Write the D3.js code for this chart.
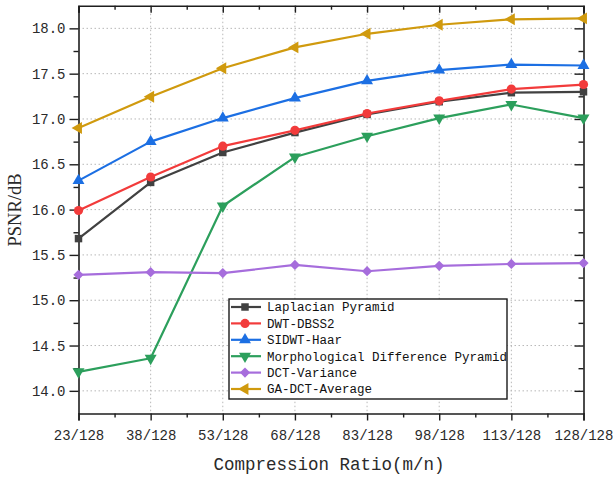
<!DOCTYPE html>
<html>
<head>
<meta charset="utf-8">
<script src="https://cdn.jsdelivr.net/npm/d3@7"></script>
<style>
html,body{margin:0;padding:0;background:#fff;}
svg{display:block;}
</style>
</head>
<body>
<svg id="chart" width="613" height="477"></svg>
<script>
// ---- data ----
const ratioNumerators = [23, 38, 53, 68, 83, 98, 113, 128];
const ratioLabels = ["23/128","38/128","53/128","68/128","83/128","98/128","113/128","128/128"];
const yTicks = [14.0, 14.5, 15.0, 15.5, 16.0, 16.5, 17.0, 17.5, 18.0];

const seriesNames = ["Laplacian Pyramid","DWT-DBSS2","SIDWT-Haar","Morphological Difference Pyramid","DCT-Variance","GA-DCT-Average"];
const laplacian = [15.68, 16.30, 16.63, 16.85, 17.05, 17.19, 17.29, 17.30];
const dwtDbss2  = [15.99, 16.36, 16.70, 16.875, 17.06, 17.20, 17.33, 17.38];
const sidwtHaar = [16.32, 16.75, 17.01, 17.23, 17.42, 17.54, 17.60, 17.59];
const morphDiff = [14.21, 14.36, 16.04, 16.58, 16.81, 17.01, 17.16, 17.01];
const dctVar    = [15.28, 15.31, 15.30, 15.39, 15.32, 15.38, 15.40, 15.41];
const gaDctAvg  = [16.90, 17.245, 17.56, 17.79, 17.94, 18.04, 18.10, 18.11];

const seriesValues = [laplacian, dwtDbss2, sidwtHaar, morphDiff, dctVar, gaDctAvg];
const seriesColors = ["#414141","#f23b3b","#1c6fe3","#2c9f5c","#a66ddc","#d09a0e"];
const seriesSymbols = [
  {type: d3.symbolSquare, size: 56, rot: 0},
  {type: d3.symbolCircle, size: 66, rot: 0},
  {type: d3.symbolTriangle, size: 62, rot: 0},
  {type: d3.symbolTriangle, size: 62, rot: 180},
  {type: d3.symbolSquare, size: 52, rot: 45},
  {type: d3.symbolTriangle, size: 62, rot: -90}
];

// ---- layout ----
const L = 78.5, R = 583.5, T = 5.7, B = 413.5;
const svg = d3.select("#chart");
const x = d3.scaleLinear().domain([23, 128]).range([L, R]);
const y = d3.scaleLinear().domain([13.75, 18.25]).range([B, T]);

const axisColor = "#1e1e1e";
const monoFont = "'Liberation Mono', 'DejaVu Sans Mono', monospace";

// grid
const grid = svg.append("g");
grid.selectAll("line.gy").data(yTicks).join("line")
  .attr("x1", L).attr("x2", R)
  .attr("y1", d => y(d)).attr("y2", d => y(d))
  .attr("stroke", "#b8b8b8").attr("stroke-width", 1).attr("stroke-dasharray", "1.5,2.5");
grid.selectAll("line.gx").data(ratioNumerators.slice(1, -1)).join("line")
  .attr("y1", T).attr("y2", B)
  .attr("x1", d => x(d)).attr("x2", d => x(d))
  .attr("stroke", "#b8b8b8").attr("stroke-width", 1).attr("stroke-dasharray", "1.5,2.5");

// minor tick values
const xMinor = ratioNumerators.slice(0, -1).map((d, i) => (d + ratioNumerators[i + 1]) / 2);
const yMinor = yTicks.map(d => d + 0.25).concat([13.75]).filter(d => d > 13.75 && d < 18.25);

const fmtX = d => ratioLabels[ratioNumerators.indexOf(d)];

// bottom axis
const bottom = svg.append("g").attr("transform", `translate(0,${B})`)
  .call(d3.axisBottom(x).tickValues(ratioNumerators).tickFormat(fmtX).tickSize(7).tickPadding(10));
svg.append("g").attr("transform", `translate(0,${B})`)
  .call(d3.axisBottom(x).tickValues(xMinor).tickFormat("").tickSize(4))
  .call(g => g.select(".domain").remove());
// top axis (inward)
svg.append("g").attr("transform", `translate(0,${T})`)
  .call(d3.axisBottom(x).tickValues(ratioNumerators).tickFormat("").tickSizeOuter(0).tickSize(7));
svg.append("g").attr("transform", `translate(0,${T})`)
  .call(d3.axisBottom(x).tickValues(xMinor).tickFormat("").tickSize(4))
  .call(g => g.select(".domain").remove());
// left axis
svg.append("g").attr("transform", `translate(${L},0)`)
  .call(d3.axisLeft(y).tickValues(yTicks).tickFormat(d3.format(".1f")).tickSize(9).tickPadding(4).tickSizeOuter(0));
svg.append("g").attr("transform", `translate(${L},0)`)
  .call(d3.axisLeft(y).tickValues(yMinor).tickFormat("").tickSize(5))
  .call(g => g.select(".domain").remove());
// right axis (inward)
svg.append("g").attr("transform", `translate(${R},0)`)
  .call(d3.axisLeft(y).tickValues(yTicks).tickFormat("").tickSize(9).tickSizeOuter(0));
svg.append("g").attr("transform", `translate(${R},0)`)
  .call(d3.axisLeft(y).tickValues(yMinor).tickFormat("").tickSize(5))
  .call(g => g.select(".domain").remove());

svg.selectAll(".domain").attr("stroke", axisColor).attr("stroke-width", 1.6);
svg.selectAll(".tick line").attr("stroke", axisColor).attr("stroke-width", 1.4);
svg.selectAll(".tick text").attr("font-family", monoFont).attr("font-size", 14).attr("fill", "#2a2a2a");

// series lines and markers
const line = d3.line().x((d, i) => x(ratioNumerators[i])).y(d => y(d));
const plot = svg.append("g");
seriesValues.forEach((vals, k) => {
  plot.append("path").datum(vals)
    .attr("d", line)
    .attr("fill", "none")
    .attr("stroke", seriesColors[k])
    .attr("stroke-width", 2.2)
    .attr("stroke-linejoin", "round");
});
seriesValues.forEach((vals, k) => {
  const s = seriesSymbols[k];
  const sym = d3.symbol().type(s.type).size(s.size);
  plot.append("g").selectAll("path").data(vals).join("path")
    .attr("d", sym)
    .attr("transform", (d, i) => `translate(${x(ratioNumerators[i])},${y(d)}) rotate(${s.rot})`)
    .attr("fill", seriesColors[k]);
});

// legend
const legX = 229, legY = 299, legW = 278, legH = 100, rowStart = 307, rowStep = 16.4;
const leg = svg.append("g");
leg.append("rect").attr("x", legX).attr("y", legY).attr("width", legW).attr("height", legH)
  .attr("fill", "#fff").attr("stroke", "#1a1a1a").attr("stroke-width", 1.4);
seriesNames.forEach((name, k) => {
  const yy = rowStart + k * rowStep;
  leg.append("line").attr("x1", 231).attr("x2", 261).attr("y1", yy).attr("y2", yy)
    .attr("stroke", seriesColors[k]).attr("stroke-width", 2.2);
  const s = seriesSymbols[k];
  leg.append("path").attr("d", d3.symbol().type(s.type).size(s.size)())
    .attr("transform", `translate(245,${yy}) rotate(${s.rot})`)
    .attr("fill", seriesColors[k]);
  leg.append("text").attr("x", 267).attr("y", yy).attr("dy", "0.35em")
    .attr("font-family", monoFont).attr("font-size", 12.5).attr("fill", "#111")
    .text(name);
});

// axis titles
svg.append("text").attr("x", 329).attr("y", 470)
  .attr("text-anchor", "middle").attr("font-family", monoFont).attr("font-size", 17.5)
  .attr("fill", "#2a2a2a").text("Compression Ratio(m/n)");
svg.append("text").attr("transform", "translate(15,210) rotate(-90)")
  .attr("text-anchor", "middle").attr("dominant-baseline", "central")
  .attr("font-family", "'Liberation Serif', 'DejaVu Serif', serif").attr("font-size", 18.5)
  .attr("fill", "#2a2a2a").text("PSNR/dB");
</script>
</body>
</html>
